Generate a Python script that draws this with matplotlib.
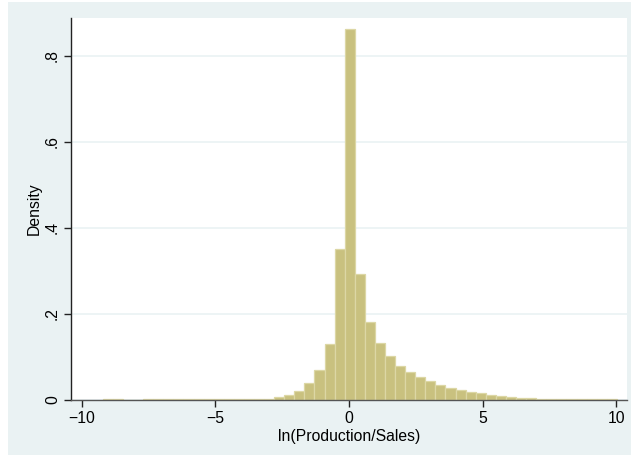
import numpy as np
import matplotlib
matplotlib.use("Agg")
import matplotlib.pyplot as plt
from matplotlib.patches import Rectangle

# histogram: 51 bins of equal width
bin_start = -9.208
bin_width = 0.377
density = [
    0.002, 0.002, 0.0, 0.0, 0.0015, 0.0015, 0.0015, 0.0015, 0.0015,
    0.0015, 0.0015, 0.0015, 0.0015, 0.0015, 0.0015, 0.0018,
    0.0025, 0.006, 0.012, 0.022, 0.039, 0.070, 0.130, 0.350, 0.862,
    0.292, 0.181, 0.1326, 0.1015, 0.079, 0.065, 0.0535, 0.044, 0.035,
    0.028, 0.023, 0.0186, 0.0155, 0.0116, 0.0085, 0.007, 0.0047, 0.004,
    0.0028, 0.0028, 0.0025, 0.002, 0.0018, 0.0016, 0.0015, 0.0015,
]
x_ticks = [-10, -5, 0, 5, 10]
y_ticks = [0, 0.2, 0.4, 0.6, 0.8]
y_labels = ["0", ".2", ".4", ".6", ".8"]

plt.rcParams["font.family"] = ["Liberation Sans", "DejaVu Sans"]

bg = "#EAF2F3"
fig = plt.figure(figsize=(6.31, 4.61), dpi=100, facecolor="white")
fig.patches.append(Rectangle((8 / 631, 6 / 461), 623 / 631, 453 / 461,
                             transform=fig.transFigure, facecolor=bg,
                             edgecolor="none", zorder=-1))
ax = fig.add_axes([71 / 631, 1 - 400 / 461, 556 / 631, 382 / 461])
ax.set_facecolor("white")

lefts = bin_start + bin_width * np.arange(len(density))
ax.bar(lefts, density, width=bin_width, align="edge",
       facecolor="#C9C17F", edgecolor="#DCD7A5", linewidth=0.9, zorder=2)

ax.set_xlim(-10.4, 10.4)
ax.set_ylim(0, 0.888)
ax.set_xticks(x_ticks)
ax.set_xticklabels(["\u221210", "\u22125", "0", "5", "10"])
ax.set_yticks(y_ticks)
ax.set_yticklabels(y_labels, rotation=90, va="center")
ax.yaxis.grid(True, color=bg, linewidth=1.2, zorder=0)
ax.set_axisbelow(True)

for s in ["top", "right"]:
    ax.spines[s].set_visible(False)
ax.spines["left"].set_color("#222222")
ax.spines["bottom"].set_color("#555555")
ax.spines["left"].set_linewidth(1.0)
ax.spines["bottom"].set_linewidth(1.0)
ax.tick_params(axis="both", direction="out", length=5, width=1,
               color="#222222", labelsize=11.3, pad=3)

ax.set_xlabel("ln(Production/Sales)", fontsize=11.3, labelpad=2)
ax.set_ylabel("Density", fontsize=11.3, labelpad=2)

fig.savefig("out.png", dpi=100, facecolor=fig.get_facecolor())
